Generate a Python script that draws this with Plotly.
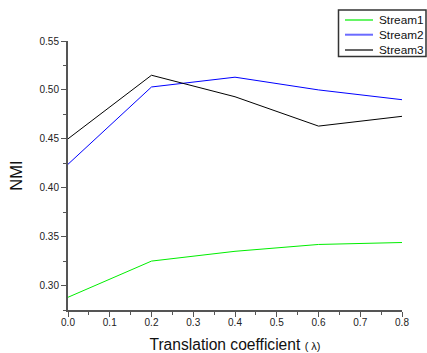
import plotly.graph_objects as go

x_vals = [0.0, 0.2, 0.4, 0.6, 0.8]
stream1 = [0.288, 0.325, 0.335, 0.342, 0.344]
stream2 = [0.424, 0.503, 0.513, 0.500, 0.490]
stream3 = [0.450, 0.515, 0.493, 0.463, 0.473]
names = ["Stream1", "Stream2", "Stream3"]
colors = ["#00ee00", "#0000ff", "#000000"]
legend_colors = ["#00ee00", "#6b6bff", "#666666"]
legend_widths = [1.2, 2, 2]

W, H = 427, 353
ML, MR, MT, MB = 68, 25, 41, 43
PW, PH = W - ML - MR, H - MT - MB


def px_x(p):
    return (p - ML) / PW


def px_y(p):
    return (H - MB - p) / PH


fig = go.Figure()
for name, ys, c in zip(names, [stream1, stream2, stream3], colors):
    fig.add_trace(go.Scatter(x=x_vals, y=ys, mode="lines", name=name,
                             line=dict(color=c, width=1), showlegend=False))

axis_common = dict(showline=True, linecolor="#555555", linewidth=2, ticks="outside",
                   ticklen=5, tickwidth=1, tickcolor="#555555", showgrid=False,
                   zeroline=False, tickfont=dict(size=10, color="#222222"))

# custom legend box
shapes = [dict(type="rect", xref="paper", yref="paper",
               x0=px_x(338.5), x1=px_x(426), y0=px_y(56.5), y1=px_y(10),
               line=dict(color="#333333", width=1.5), fillcolor="white", layer="above")]
annotations = []
rows = [20, 34.7, 50]
for name, c, w, ry in zip(names, legend_colors, legend_widths, rows):
    shapes.append(dict(type="line", xref="paper", yref="paper",
                       x0=px_x(345), x1=px_x(373), y0=px_y(ry), y1=px_y(ry),
                       line=dict(color=c, width=w), layer="above"))
    annotations.append(dict(xref="paper", yref="paper", x=px_x(376.5), y=px_y(ry),
                            xanchor="left", yanchor="middle", showarrow=False,
                            text=name, font=dict(size=11.8, color="#111111")))

fig.update_layout(
    width=W, height=H,
    margin=dict(l=ML, r=MR, t=MT, b=MB, autoexpand=False),
    paper_bgcolor="white", plot_bgcolor="white",
    font=dict(family="Liberation Sans, Arial, sans-serif", color="#111111"),
    xaxis=dict(range=[0, 0.8], dtick=0.1, tickformat=".1f",
               minor=dict(ticks="outside", ticklen=3, dtick=0.05, tickcolor="#555555"),
               ticklabelstandoff=-3,
               title=dict(text="Translation coefficient <span style='font-size:11px'>( λ)</span>",
                          font=dict(size=15.6), standoff=13),
               **axis_common),
    yaxis=dict(range=[0.275, 0.55], tick0=0.30, dtick=0.05, tickformat=".2f",
               minor=dict(ticks="outside", ticklen=3, dtick=0.025, tick0=0.275, tickcolor="#555555"),
               title=dict(text="NMI", font=dict(size=16.5), standoff=13),
               **axis_common),
    shapes=shapes,
    annotations=annotations,
    showlegend=False,
)

fig.write_html("out.html")
